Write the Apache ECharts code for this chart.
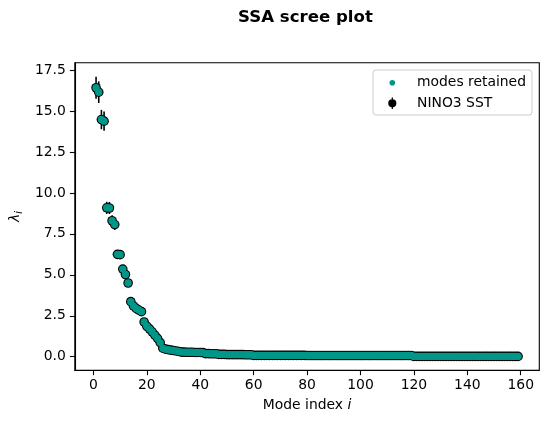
<!DOCTYPE html>
<html>
<head>
<meta charset="utf-8">
<script src="https://cdn.jsdelivr.net/npm/echarts@6/dist/echarts.min.js"></script>
<style>
html,body{margin:0;padding:0;background:#fff;}
#chart{width:548px;height:425px;}
</style>
</head>
<body>
<div id="chart"></div>
<script>
// Eigenvalues lambda_i (mode 1 .. 159)
const eigenvalues = [
  16.42, 16.15, 14.48, 14.38, 9.09, 9.08, 8.30, 8.07, 6.25, 6.23,
  5.35, 5.02, 4.50, 3.36, 3.10, 2.95, 2.85, 2.75, 2.12, 1.86,
  1.70, 1.52, 1.32, 1.12, 0.86, 0.52, 0.46, 0.43, 0.40, 0.38,
  0.35, 0.32,
  0.28, 0.28, 0.27, 0.27, 0.27, 0.26, 0.26, 0.26, 0.25,
  0.19, 0.19, 0.18, 0.18, 0.18,
  0.14, 0.14, 0.14, 0.13, 0.13, 0.13, 0.13, 0.13, 0.13, 0.13, 0.12, 0.12, 0.12,
  0.08, 0.08, 0.08, 0.08, 0.08, 0.08, 0.08, 0.08, 0.08, 0.08,
  0.08, 0.08, 0.08, 0.08, 0.08, 0.08, 0.08, 0.08, 0.08, 0.08,
  0.07, 0.07, 0.07, 0.07, 0.07, 0.07, 0.07, 0.07, 0.07, 0.07,
  0.07, 0.07, 0.07, 0.07, 0.07, 0.07, 0.07, 0.07, 0.07, 0.07,
  0.07, 0.07, 0.07, 0.07, 0.07, 0.07, 0.07, 0.07, 0.07, 0.07,
  0.07, 0.07, 0.07, 0.07, 0.07, 0.07, 0.07, 0.07, 0.07, 0.07,
  0.02, 0.02, 0.02, 0.02, 0.02, 0.02, 0.02, 0.02, 0.02, 0.02,
  0.02, 0.02, 0.02, 0.02, 0.02, 0.02, 0.02, 0.02, 0.02, 0.02,
  0.02, 0.02, 0.02, 0.02, 0.02, 0.02, 0.02, 0.02, 0.02, 0.02,
  0.02, 0.02, 0.02, 0.02, 0.02, 0.02, 0.02, 0.02, 0.02, 0.02
];

// Error bar half-lengths
const errors = [
  0.67, 0.66, 0.59, 0.59, 0.37, 0.37, 0.34, 0.33, 0.26, 0.26,
  0.22, 0.21, 0.18, 0.14, 0.13, 0.12, 0.12, 0.11, 0.09, 0.08,
  0.07, 0.06, 0.05, 0.05, 0.04, 0.02, 0.02, 0.02, 0.02, 0.02,
  0.01, 0.01,
  0.01, 0.01, 0.01, 0.01, 0.01, 0.01, 0.01, 0.01, 0.01,
  0.008, 0.008, 0.008, 0.008, 0.008,
  0.005, 0.005, 0.005, 0.005, 0.005, 0.005, 0.005, 0.005, 0.005, 0.005, 0.005, 0.005, 0.005,
  0.003, 0.003, 0.003, 0.003, 0.003, 0.003, 0.003, 0.003, 0.003, 0.003,
  0.003, 0.003, 0.003, 0.003, 0.003, 0.003, 0.003, 0.003, 0.003, 0.003,
  0.003, 0.003, 0.003, 0.003, 0.003, 0.003, 0.003, 0.003, 0.003, 0.003,
  0.003, 0.003, 0.003, 0.003, 0.003, 0.003, 0.003, 0.003, 0.003, 0.003,
  0.003, 0.003, 0.003, 0.003, 0.003, 0.003, 0.003, 0.003, 0.003, 0.003,
  0.003, 0.003, 0.003, 0.003, 0.003, 0.003, 0.003, 0.003, 0.003, 0.003,
  0.001, 0.001, 0.001, 0.001, 0.001, 0.001, 0.001, 0.001, 0.001, 0.001,
  0.001, 0.001, 0.001, 0.001, 0.001, 0.001, 0.001, 0.001, 0.001, 0.001,
  0.001, 0.001, 0.001, 0.001, 0.001, 0.001, 0.001, 0.001, 0.001, 0.001,
  0.001, 0.001, 0.001, 0.001, 0.001, 0.001, 0.001, 0.001, 0.001, 0.001
];

const xTicks = [0, 20, 40, 60, 80, 100, 120, 140, 160];
const yTicks = [0, 2.5, 5, 7.5, 10, 12.5, 15, 17.5];

const titleText = 'SSA scree plot';
const seriesRetained = 'modes retained';
const seriesSST = 'NINO3 SST';

// mode index is the 1-based position of each eigenvalue
const points = eigenvalues.map((v, i) => [i + 1, v]);
const errData = eigenvalues.map((v, i) => [i + 1, v, errors[i]]);

const FONT = 'DejaVu Sans';
const TEAL = '#009688';

const chart = echarts.init(document.getElementById('chart'), null, {renderer: 'canvas'});

const option = {
  animation: false,
  backgroundColor: '#ffffff',
  title: {
    text: titleText,
    left: 238,
    top: 9,
    padding: 0,
    textStyle: {fontFamily: FONT, fontSize: 16.6, fontWeight: 'bold', color: '#000'}
  },
  legend: {
    orient: 'vertical',
    left: 373,
    top: 70,
    padding: [5.7, 6, 4.7, 9.6],
    itemWidth: 29.4,
    itemHeight: 14,
    itemGap: 6.6,
    backgroundColor: 'rgba(255,255,255,0.8)',
    borderColor: '#cccccc',
    borderWidth: 1,
    borderRadius: 3,
    textStyle: {fontFamily: FONT, fontSize: 13.9, color: '#000'},
    data: [
      {
        name: seriesRetained,
        icon: 'path://M0,0M29.4,14M12.5,7A2.8,2.8,0,1,1,6.9,7A2.8,2.8,0,1,1,12.5,7Z',
        itemStyle: {color: TEAL, borderWidth: 0}
      },
      {
        name: seriesSST,
        icon: 'path://M0,0M29.4,14M9.05,1.2L10.35,1.2L10.35,12.8L9.05,12.8ZM13.8,7A4.1,4.1,0,1,1,5.6,7A4.1,4.1,0,1,1,13.8,7Z',
        itemStyle: {color: '#000', borderWidth: 0}
      }
    ]
  },
  grid: {
    left: 73.3,
    right: 8.7,
    top: 62.7,
    bottom: 54.7,
    show: true,
    borderColor: '#000',
    borderWidth: 1.1,
    containLabel: false
  },
  xAxis: {
    type: 'value',
    min: -6.95,
    max: 166.95,
    name: 'Mode index {i|i}',
    nameLocation: 'middle',
    nameGap: 28,
    nameTextStyle: {
      fontFamily: FONT, fontSize: 13.9, color: '#000',
      rich: {i: {fontFamily: FONT, fontSize: 13.9, fontStyle: 'italic', color: '#000'}}
    },
    axisLine: {show: true, onZero: false, lineStyle: {color: '#000', width: 1.1}},
    axisTick: {show: true, customValues: xTicks, length: 4.9, lineStyle: {color: '#000', width: 1.1}},
    axisLabel: {
      customValues: xTicks, margin: 8.5,
      fontFamily: FONT, fontSize: 13.9, color: '#000',
      formatter: v => String(v)
    },
    splitLine: {show: false}
  },
  yAxis: {
    type: 'value',
    min: -0.83,
    max: 17.95,
    name: '{l|λ}{s|i}',
    nameLocation: 'middle',
    nameRotate: 90,
    nameGap: 50,
    nameTextStyle: {
      rich: {
        l: {fontFamily: FONT, fontSize: 13.9, fontStyle: 'italic', color: '#000', lineHeight: 18},
        s: {fontFamily: FONT, fontSize: 9.7, fontStyle: 'italic', color: '#000', lineHeight: 10, verticalAlign: 'bottom'}
      }
    },
    axisLine: {show: true, onZero: false, lineStyle: {color: '#000', width: 1.1}},
    axisTick: {show: true, customValues: yTicks, length: 4.9, lineStyle: {color: '#000', width: 1.1}},
    axisLabel: {
      customValues: yTicks, margin: 9,
      fontFamily: FONT, fontSize: 13.9, color: '#000',
      formatter: v => Number(v).toFixed(1)
    },
    splitLine: {show: false}
  },
  series: [
    {
      name: seriesSST,
      type: 'custom',
      z: 1,
      silent: true,
      data: errData,
      encode: {x: 0, y: 1},
      renderItem: function (params, api) {
        const x = api.value(0), y = api.value(1), e = api.value(2);
        const p1 = api.coord([x, y - e]);
        const p2 = api.coord([x, y + e]);
        return {
          type: 'line',
          shape: {x1: p1[0], y1: p1[1], x2: p2[0], y2: p2[1]},
          style: {stroke: '#000', lineWidth: 1.6}
        };
      }
    },
    {
      name: seriesSST,
      type: 'scatter',
      z: 2,
      symbol: 'circle',
      symbolSize: 9.6,
      itemStyle: {color: '#000', opacity: 1},
      data: points
    },
    {
      name: seriesRetained,
      type: 'scatter',
      z: 3,
      symbol: 'circle',
      symbolSize: 7.4,
      itemStyle: {color: TEAL, opacity: 1},
      data: points
    }
  ]
};

chart.setOption(option);
</script>
</body>
</html>
